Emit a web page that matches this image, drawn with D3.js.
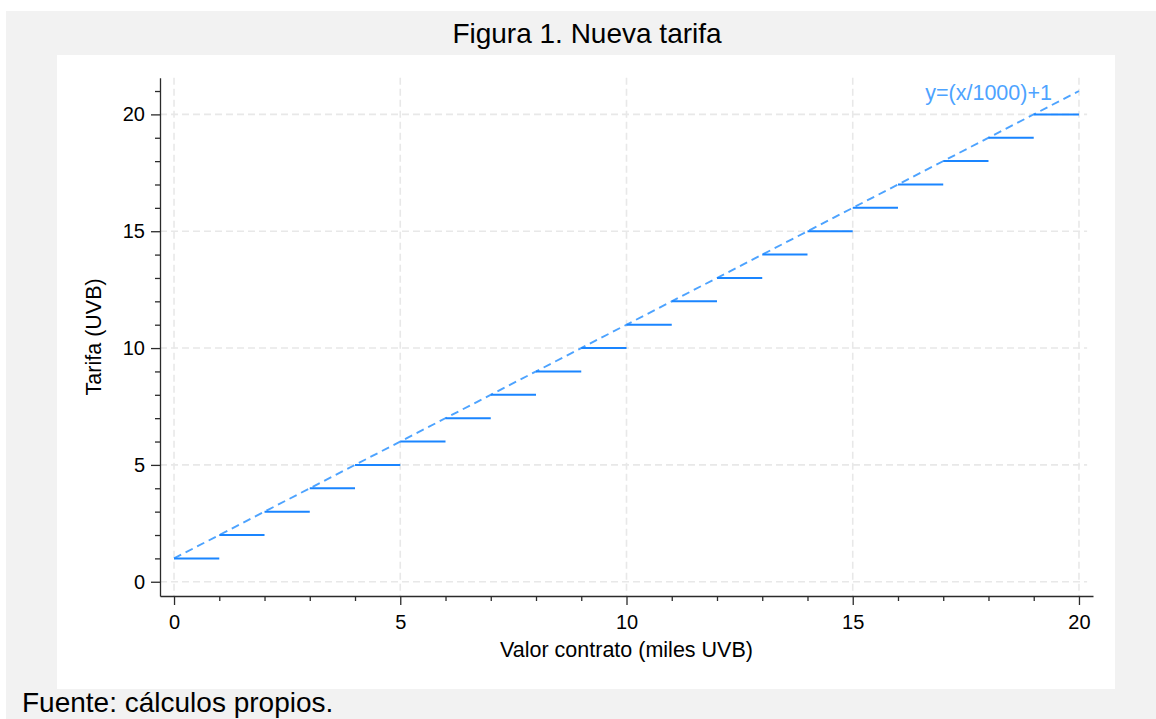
<!DOCTYPE html>
<html>
<head>
<meta charset="utf-8">
<script src="https://cdn.jsdelivr.net/npm/d3@7"></script>
<style>
  html, body { margin: 0; padding: 0; background: #ffffff; }
  svg { display: block; font-family: "Liberation Sans", Arial, Helvetica, sans-serif; }
</style>
</head>
<body>
<svg id="chart" width="1156" height="719"></svg>
<script>
// ---- Data ----
const stepStart = [0,1,2,3,4,5,6,7,8,9,10,11,12,13,14,15,16,17,18,19];
const stepEnd   = [1,2,3,4,5,6,7,8,9,10,11,12,13,14,15,16,17,18,19,20];
const tarifa    = [1,2,3,4,5,6,7,8,9,10,11,12,13,14,15,16,17,18,19,20];
const lineX = [0, 20];
const lineY = [1, 21];
const xMajorTicks = [0, 5, 10, 15, 20];
const yMajorTicks = [0, 5, 10, 15, 20];
const xMinorTicks = [1,2,3,4,6,7,8,9,11,12,13,14,16,17,18,19];
const yMinorTicks = [1,2,3,4,6,7,8,9,11,12,13,14,16,17,18,19,21];
const titleText = "Figura 1. Nueva tarifa";
const xTitle = "Valor contrato (miles UVB)";
const yTitle = "Tarifa (UVB)";
const lineLabel = "y=(x/1000)+1";
const sourceText = "Fuente: cálculos propios.";

const svg = d3.select("#chart");
const W = 1156, H = 719;

// backgrounds
svg.append("rect").attr("x", 6).attr("y", 11).attr("width", W - 6).attr("height", H - 11).attr("fill", "#f2f2f2");
svg.append("rect").attr("x", 57).attr("y", 55).attr("width", 1058).attr("height", 634).attr("fill", "#ffffff");

// scales
const x = d3.scaleLinear().domain([-0.31, 20.31]).range([160, 1093]);
const y = d3.scaleLinear().domain([-0.61, 21.57]).range([596, 77.7]);

const axisColor = "#2b2b2b";
const gridColor = "#e8e8e8";

// grid
const grid = svg.append("g");
grid.selectAll(".vg").data(xMajorTicks).join("line")
  .attr("x1", d => x(d)).attr("x2", d => x(d))
  .attr("y1", y(21.57)).attr("y2", y(-0.61))
  .attr("stroke", gridColor).attr("stroke-width", 1.6).attr("stroke-dasharray", "7,4");
grid.selectAll(".hg").data(yMajorTicks).join("line")
  .attr("x1", x(-0.31)).attr("x2", x(20.18))
  .attr("y1", d => y(d)).attr("y2", d => y(d))
  .attr("stroke", gridColor).attr("stroke-width", 1.6).attr("stroke-dasharray", "7,4");

// axes
const xAxis = svg.append("g").attr("transform", "translate(0,596)")
  .call(d3.axisBottom(x).tickValues(xMajorTicks).tickSize(9).tickSizeOuter(0).tickPadding(10).tickFormat(d3.format("d")));
const xAxisMinor = svg.append("g").attr("transform", "translate(0,596)")
  .call(d3.axisBottom(x).tickValues(xMinorTicks).tickSize(5).tickSizeOuter(0).tickFormat(""));
const yAxis = svg.append("g").attr("transform", "translate(160,0)")
  .call(d3.axisLeft(y).tickValues(yMajorTicks).tickSize(9).tickSizeOuter(0).tickPadding(6).tickFormat(d3.format("d")));
const yAxisMinor = svg.append("g").attr("transform", "translate(160,0)")
  .call(d3.axisLeft(y).tickValues(yMinorTicks).tickSize(5).tickSizeOuter(0).tickFormat(""));

[xAxis, xAxisMinor, yAxis, yAxisMinor].forEach(g => {
  g.selectAll("path.domain").attr("stroke", axisColor).attr("stroke-width", 1.3);
  g.selectAll(".tick line").attr("stroke", axisColor).attr("stroke-width", 1.3);
  g.selectAll(".tick text").attr("fill", "#000").style("font-size", "20px")
    .style("font-family", "'Liberation Sans', Arial, Helvetica, sans-serif");
});
xAxisMinor.select("path.domain").remove();
yAxisMinor.select("path.domain").remove();

// dashed function line
const lineData = lineX.map((d, i) => [d, lineY[i]]);
svg.append("path")
  .datum(lineData)
  .attr("d", d3.line().x(d => x(d[0])).y(d => y(d[1])))
  .attr("fill", "none")
  .attr("stroke", "#4da3ff")
  .attr("stroke-width", 1.9)
  .attr("stroke-dasharray", "8,5");

// steps
svg.append("g").selectAll("line").data(tarifa).join("line")
  .attr("x1", (d, i) => x(stepStart[i]))
  .attr("x2", (d, i) => x(stepEnd[i]))
  .attr("y1", d => y(d)).attr("y2", d => y(d))
  .attr("stroke", "#1a85ff").attr("stroke-width", 2);

// line label
svg.append("text")
  .attr("x", x(lineX[1]) - 27).attr("y", 100)
  .attr("text-anchor", "end")
  .attr("fill", "#4da3ff")
  .style("font-size", "21.5px")
  .text(lineLabel);

// titles
svg.append("text")
  .attr("x", 587).attr("y", 43)
  .attr("text-anchor", "middle")
  .attr("fill", "#000")
  .style("font-size", "28px")
  .text(titleText);

svg.append("text")
  .attr("x", (x(0) + x(20)) / 2).attr("y", 657)
  .attr("text-anchor", "middle")
  .attr("fill", "#000")
  .style("font-size", "21.5px")
  .text(xTitle);

svg.append("text")
  .attr("transform", `translate(101,${(y(-0.61) + y(21.57)) / 2}) rotate(-90)`)
  .attr("text-anchor", "middle")
  .attr("fill", "#000")
  .style("font-size", "21.5px")
  .text(yTitle);

svg.append("text")
  .attr("x", 22).attr("y", 712)
  .attr("fill", "#000")
  .style("font-size", "28px")
  .text(sourceText);
</script>
</body>
</html>
